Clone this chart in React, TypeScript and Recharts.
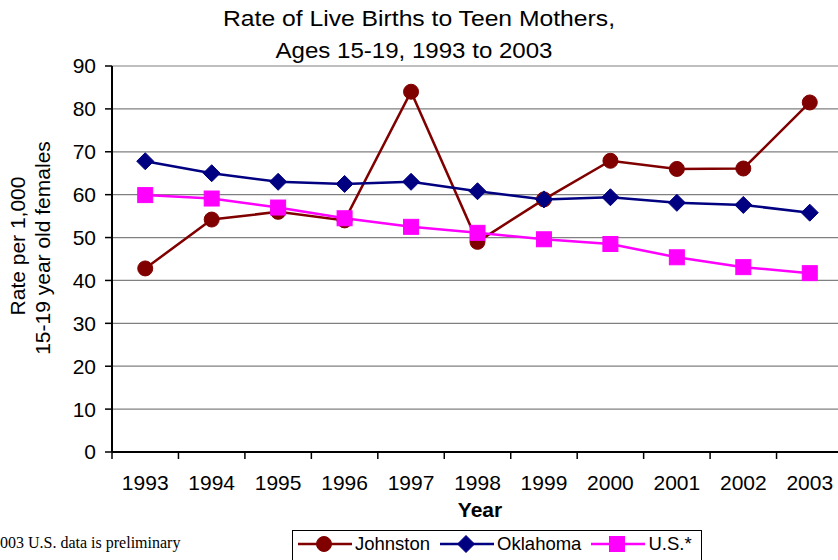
import React from 'react';
import { LineChart, Line, XAxis, YAxis, CartesianGrid, Legend } from 'recharts';

const years = ['1993', '1994', '1995', '1996', '1997', '1998', '1999', '2000', '2001', '2002', '2003'];
const johnston = [42.8, 54.2, 56.0, 54.0, 84.0, 49.0, 58.9, 67.9, 66.0, 66.1, 81.5];
const oklahoma = [67.8, 65.0, 63.0, 62.5, 63.0, 60.8, 58.9, 59.4, 58.1, 57.6, 55.8];
const us = [59.9, 59.1, 57.0, 54.5, 52.5, 51.1, 49.6, 48.5, 45.4, 43.1, 41.7];
const yTicks = [0, 10, 20, 30, 40, 50, 60, 70, 80, 90];

const data = years.map((year, i) => ({
  year,
  johnston: johnston[i],
  oklahoma: oklahoma[i],
  us: us[i],
}));

const FONT = '"Liberation Sans", Arial, sans-serif';
const CHART_W = 846;
const MARGIN = { top: 66, right: 3, bottom: 68, left: 12 };
const Y_AXIS_W = 100;
const BAND = (CHART_W - MARGIN.left - MARGIN.right - Y_AXIS_W) / years.length;

const series = [
  { key: 'johnston', name: 'Johnston', color: '#800000', marker: 'circle' },
  { key: 'oklahoma', name: 'Oklahoma', color: '#000080', marker: 'diamond' },
  { key: 'us', name: 'U.S.*', color: '#FF00FF', marker: 'square' },
];

function Marker({ type, cx, cy, color }: { type: string; cx: number; cy: number; color: string }) {
  if (type === 'circle') return <circle cx={cx} cy={cy} r={7.5} fill={color} stroke={color} />;
  if (type === 'diamond') {
    const s = 8.5;
    return (
      <polygon
        points={`${cx},${cy - s} ${cx + s},${cy} ${cx},${cy + s} ${cx - s},${cy}`}
        fill={color}
        stroke={color}
      />
    );
  }
  return <rect x={cx - 7.5} y={cy - 7.5} width={15} height={15} fill={color} stroke={color} />;
}

// category ticks sit between the years, like the original spreadsheet chart
function XTick(props: any) {
  const { x, y, payload } = props;
  return (
    <g>
      <line x1={x - BAND / 2} x2={x - BAND / 2} y1={y - 7} y2={y} stroke="#000" strokeWidth={1.5} />
      <text x={x} y={y} dy={31} textAnchor="middle" fontSize={21} fontFamily={FONT} fill="#000">
        {payload.value}
      </text>
    </g>
  );
}

function LegendBox() {
  return (
    <div
      style={{
        width: 410,
        height: 40,
        border: '1px solid #000',
        boxSizing: 'border-box',
        display: 'flex',
        alignItems: 'center',
        fontFamily: FONT,
        fontSize: 18.5,
        color: '#000',
        background: '#fff',
      }}
    >
      {series.map((s, i) => (
        <div
          key={s.key}
          style={{ display: 'flex', alignItems: 'center', marginLeft: i === 0 ? 5 : 10, marginTop: -12 }}
        >
          <svg width={54} height={20} style={{ display: 'block' }}>
            <line x1={0} x2={54} y1={10} y2={10} stroke={s.color} strokeWidth={2.5} />
            <Marker type={s.marker} cx={26} cy={10} color={s.color} />
          </svg>
          <span style={{ marginLeft: 3, lineHeight: '20px' }}>{s.name}</span>
        </div>
      ))}
    </div>
  );
}

export default function App() {
  return (
    <div
      style={{
        position: 'absolute',
        left: 0,
        top: 0,
        width: 838,
        height: 560,
        overflow: 'hidden',
        background: '#fff',
      }}
    >
      <LineChart width={CHART_W} height={560} data={data} margin={MARGIN}>
        <CartesianGrid vertical={false} stroke="#808080" strokeWidth={1.2} />
        <XAxis
          dataKey="year"
          scale="band"
          tick={<XTick />}
          tickLine={false}
          tickSize={7}
          tickMargin={0}
          height={40}
          axisLine={{ stroke: '#000', strokeWidth: 2 }}
          interval={0}
        />
        <YAxis
          width={Y_AXIS_W}
          domain={[0, 90]}
          ticks={yTicks}
          interval={0}
          tickSize={7}
          tickMargin={9}
          axisLine={{ stroke: '#000', strokeWidth: 2 }}
          tickLine={{ stroke: '#000', strokeWidth: 1.5 }}
          tick={{ fontSize: 21, fontFamily: FONT, fill: '#000' }}
        />
        <Legend
          layout="vertical"
          verticalAlign="middle"
          align="center"
          content={() => <LegendBox />}
          wrapperStyle={{ left: 292, top: 530, width: 410, height: 40 }}
        />
        {series.map((s) => (
          <Line
            key={s.key}
            dataKey={s.key}
            name={s.name}
            stroke={s.color}
            strokeWidth={2.5}
            isAnimationActive={false}
            dot={(p: any) => <Marker key={`${s.key}-${p.index}`} type={s.marker} cx={p.cx} cy={p.cy} color={s.color} />}
            activeDot={false}
          />
        ))}
      </LineChart>
      <svg
        width={838}
        height={560}
        style={{ position: 'absolute', left: 0, top: 0, pointerEvents: 'none' }}
      >
        <g fontFamily={FONT} fill="#000">
          <text x={419} y={26} textAnchor="middle" fontSize={22.5} textLength={392} lengthAdjust="spacingAndGlyphs">
            Rate of Live Births to Teen Mothers,
          </text>
          <text x={414} y={58} textAnchor="middle" fontSize={22.5} textLength={277} lengthAdjust="spacingAndGlyphs">
            Ages 15-19, 1993 to 2003
          </text>
          <text transform="translate(25,246) rotate(-90)" textAnchor="middle" fontSize={21}>
            Rate per 1,000
          </text>
          <text transform="translate(50,248) rotate(-90)" textAnchor="middle" fontSize={21}>
            15-19 year old females
          </text>
          <text x={480} y={517} textAnchor="middle" fontSize={21} fontWeight="bold">
            Year
          </text>
        </g>
        <text x={-16} y={548} fontSize={16} fontFamily='"Liberation Serif", "Times New Roman", serif' fill="#000">
          *2003 U.S. data is preliminary
        </text>
      </svg>
    </div>
  );
}
